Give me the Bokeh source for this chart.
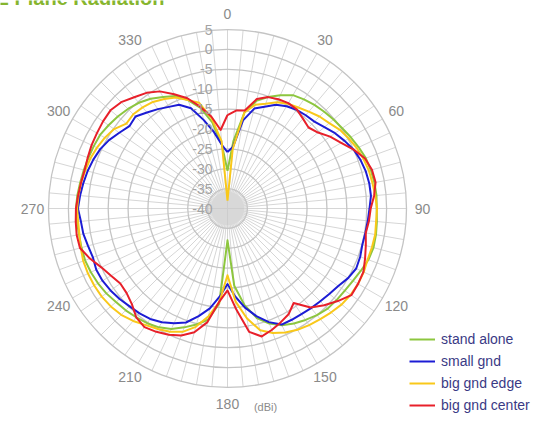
import numpy as np
from bokeh.plotting import figure
from bokeh.models import Range1d, Legend, LegendItem
from bokeh.embed import file_html
from bokeh.resources import INLINE
from bokeh.core.properties import value

# ---------------- data ----------------
angles = list(range(0, 360, 5))

stand_alone = [-30.5, -23.0, -15.5, -12.0, -10.2, -8.6, -7.1, -6.5, -6.0, -5.6, -5.2, -4.8,
               -4.2, -3.6, -3.0, -2.7, -2.5, -2.4, -2.5, -2.3, -2.1, -2.0, -2.3, -3.0,
               -3.6, -4.0, -4.2, -4.4, -5.0, -5.8, -6.6, -7.6, -9.2, -11.5, -15.3, -20.5,
               -32.0, -16.0, -11.6, -9.8, -8.2, -6.6, -5.5, -4.8, -4.3, -3.8, -3.4, -2.8,
               -2.4, -2.1, -1.9, -2.0, -2.1, -2.0, -1.9, -2.1, -2.4, -2.6, -2.8, -2.9,
               -3.0, -3.5, -4.0, -4.6, -5.3, -6.3, -7.6, -8.8, -11.0, -13.8, -18.0, -24.0]

small_gnd = [-25.8, -24.5, -17.5, -14.0, -12.8, -11.2, -10.3, -9.7, -9.4, -9.1, -8.2, -7.0,
             -6.0, -5.0, -4.4, -4.0, -3.8, -3.8, -4.3, -4.6, -4.8, -4.9, -4.5, -4.3,
             -5.0, -6.0, -6.6, -7.0, -7.3, -7.6, -7.7, -7.8, -9.6, -12.0, -14.7, -17.8,
             -21.0, -17.8, -14.5, -12.0, -9.5, -8.2, -7.0, -6.1, -5.6, -5.2, -4.6, -4.1,
             -3.7, -3.6, -4.0, -3.7, -3.2, -3.0, -2.4, -2.8, -3.2, -3.6, -4.1, -4.7,
             -5.6, -6.8, -7.8, -7.3, -8.5, -9.5, -10.5, -11.2, -13.2, -17.0, -20.5, -24.0]

big_gnd_edge = [-38.0, -25.0, -15.5, -13.0, -12.0, -10.5, -9.6, -9.0, -8.2, -7.3, -6.6, -5.5,
                -4.8, -4.1, -3.6, -3.2, -3.0, -2.7, -2.4, -2.5, -2.3, -2.4, -2.5, -2.2,
                -2.1, -2.2, -2.5, -3.1, -3.7, -4.2, -4.8, -5.6, -6.7, -8.3, -12.0, -16.5,
                -23.2, -16.4, -12.5, -9.2, -7.0, -5.8, -5.0, -4.2, -3.1, -2.2, -1.7, -1.4,
                -1.3, -1.3, -1.4, -1.8, -2.2, -2.3, -2.2, -2.4, -2.6, -3.0, -3.3, -3.8,
                -4.4, -5.2, -6.8, -6.5, -6.8, -7.3, -8.2, -9.2, -11.0, -12.5, -17.0, -23.0]

big_gnd_center = [-16.5, -15.3, -15.0, -11.5, -10.2, -9.7, -9.4, -9.6, -10.5, -11.2, -10.3, -8.5,
                  -7.0, -5.0, -3.2, -2.4, -2.2, -3.0, -4.0, -4.3, -4.7, -4.0, -3.2, -2.3,
                  -2.1, -2.0, -3.8, -5.6, -7.5, -11.0, -9.3, -8.4, -7.5, -6.7, -8.5, -14.5,
                  -19.4, -16.5, -11.0, -7.8, -6.0, -5.0, -4.2, -3.6, -4.3, -6.0, -6.9, -7.1,
                  -6.2, -5.0, -3.2, -1.6, -1.5, -1.7, -1.9, -2.3, -2.6, -2.8, -2.6, -2.3,
                  -2.1, -1.8, -1.6, -2.2, -3.5, -4.5, -6.0, -8.3, -10.5, -13.5, -16.5, -20.2]

series_names = ["stand alone", "small gnd", "big gnd edge", "big gnd center"]
series_colors = ["#8dc63f", "#1c1cd4", "#f9c81a", "#e8202a"]

ring_values = [5, 0, -5, -10, -15, -20, -25, -30, -35, -40]
angle_ticks = [0, 30, 60, 90, 120, 150, 180, 210, 240, 270, 300, 330]
spoke_angles = list(range(0, 360, 5))
r_min, r_max = -40, 5
title_text = "E Plane Radiation"
unit_text = "(dBi)"

# ---------------- geometry ----------------
W, H = 534, 413
CX, CY = 227, 208          # centre of the polar plot, canvas px
R_PX = 179                 # radius of outermost ring, px
s = R_PX / (r_max - r_min) # px per dB unit
FONT = value("Liberation Sans")

p = figure(width=W, height=H,
           x_range=Range1d(-CX / s, (W - CX) / s),
           y_range=Range1d(-(H - CY) / s, CY / s),
           output_backend="svg", toolbar_location=None, min_border=0,
           x_axis_location=None, y_axis_location=None)
p.grid.visible = False
p.outline_line_color = None
p.background_fill_color = "white"
p.border_fill_color = "white"

def pol(r, deg):
    t = np.radians(np.asarray(deg, dtype=float))
    r = np.asarray(r, dtype=float)
    return r * np.sin(t), r * np.cos(t)

R = r_max - r_min
n_sp = len(spoke_angles)

# spokes (from the edge of the centre disc outwards)
sx0, sy0 = pol([17 / s] * n_sp, spoke_angles)
sx1, sy1 = pol([R] * n_sp, spoke_angles)
p.segment(x0=sx0, y0=sy0, x1=sx1, y1=sy1, line_color="#d6d6d6", line_width=1)

# centre shading
p.circle(x=[0], y=[0], radius=20 / s, fill_color="#d0d0d0", fill_alpha=0.35, line_color=None)
p.circle(x=[0], y=[0], radius=17 / s, fill_color="#d8d8d8", fill_alpha=1.0, line_color=None)
p.segment(x0=[-17 / s, 0], y0=[0, -17 / s], x1=[17 / s, 0], y1=[0, 17 / s],
          line_color="#cdcdcd", line_width=1)

# rings
p.circle(x=[0] * len(ring_values), y=[0] * len(ring_values),
         radius=[v - r_min for v in ring_values], fill_color=None,
         line_color="#c4c4c4", line_width=1.3)

# series
renderers = []
for vals, col in zip([stand_alone, small_gnd, big_gnd_edge, big_gnd_center], series_colors):
    r = [max(v - r_min, 0) for v in vals] + [max(vals[0] - r_min, 0)]
    a = angles + [angles[0]]
    x, y = pol(r, a)
    renderers.append(p.line(x=x, y=y, line_color=col, line_width=2, line_join="round"))

# radial tick labels
p.text(x=[0] * len(ring_values), y=[v - r_min for v in ring_values],
       text=[str(v) for v in ring_values], x_offset=-15,
       text_align="right", text_baseline="middle",
       text_font=FONT, text_font_size="14px", text_color="#a3a3a3")

# angle labels
lx, ly = pol([195 / s] * len(angle_ticks), angle_ticks)
p.text(x=lx, y=ly, text=[str(a) for a in angle_ticks],
       text_align="center", text_baseline="middle",
       text_font=FONT, text_font_size="14px", text_color="#8a8a8a")

# unit label
p.text(x=[(265 - CX) / s], y=[(CY - 412) / s], text=[unit_text],
       text_align="center", text_baseline="bottom",
       text_font=FONT, text_font_size="11px", text_color="#8a8a8a")

# title (only its lower edge shows at the top, as in the reference)
p.text(x=[(-5 - CX) / s], y=[(CY - 8) / s], text=[title_text],
       text_align="left", text_baseline="bottom",
       text_font=FONT, text_font_style="bold",
       text_font_size="20px", text_color="#86b52e")

legend = Legend(items=[LegendItem(label=n, renderers=[r]) for n, r in zip(series_names, renderers)],
                location=(409, 0), orientation="vertical",
                label_text_font="Liberation Sans", label_text_font_size="14px",
                label_text_color="#3a3a85", glyph_width=26, glyph_height=16,
                label_height=16, spacing=6, padding=0, margin=0, label_standoff=6,
                border_line_color=None, background_fill_alpha=0)
p.add_layout(legend)

open("out.html", "w").write(file_html(p, INLINE))
